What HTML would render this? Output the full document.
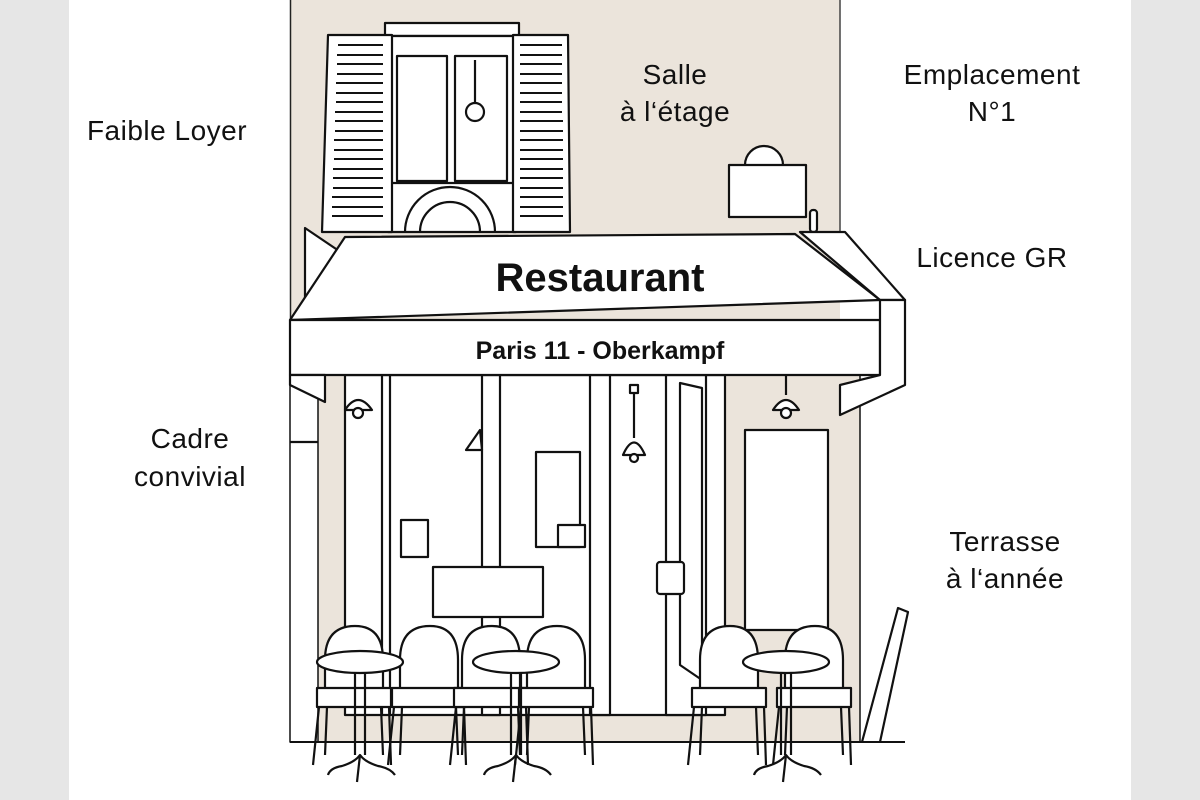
<!DOCTYPE html>
<html><head><meta charset="utf-8"><style>
html,body{margin:0;padding:0;background:#fff}
svg{display:block}
.l{font-family:"Liberation Sans",sans-serif;font-size:28px;fill:#111;text-anchor:middle;letter-spacing:0.5px}
</style></head><body>
<svg width="1200" height="800" viewBox="0 0 1200 800" xmlns="http://www.w3.org/2000/svg">
<defs>
<g id="ch">
<path d="M0 690 L0 660 Q0 626 30 626 Q58 626 58 660 L58 690"/>
<path d="M-8 688 L66 688 L66 707 L-8 707 Z"/>
<path d="M-6 707 L-12 765 M2 707 L0 755 M56 707 L58 755 M64 707 L66 765"/>
</g>
<g id="tb">
<line x1="-5" y1="670" x2="-5" y2="755"/><line x1="5" y1="670" x2="5" y2="755"/>
<path d="M-32 775 Q-30 768 -18 766 Q-5 762 0 755 Q5 762 18 766 Q30 768 35 775" fill="none"/>
<path d="M0 755 L-3 782" fill="none"/>
<ellipse cx="0" cy="662" rx="43" ry="11"/>
</g>
</defs>
<rect x="0" y="0" width="69" height="800" fill="#e6e6e6"/>
<rect x="1131" y="0" width="69" height="800" fill="#e6e6e6"/>
<!-- building -->
<rect x="290" y="0" width="550" height="320" fill="#ebe4db"/>
<rect x="318" y="375" width="542" height="367" fill="#ebe4db"/>
<line x1="290.5" y1="0" x2="290.5" y2="742" stroke="#222" stroke-width="1.5"/>
<line x1="840" y1="0" x2="840" y2="232" stroke="#444" stroke-width="1.5"/>
<g fill="#fff" stroke="#111" stroke-width="2.2" stroke-linejoin="round">
<!-- window -->
<rect x="385" y="23" width="134" height="13"/>
<rect x="388" y="36" width="128" height="196"/>
<rect x="397" y="56" width="50" height="125"/>
<rect x="455" y="56" width="52" height="125"/>
<line x1="388" y1="183" x2="516" y2="183"/>
<path d="M405 232 A45 45 0 0 1 495 232" fill="none"/>
<path d="M420 232 A30 30 0 0 1 480 232" fill="none"/>
<circle cx="475" cy="112" r="9"/>
<line x1="475" y1="60" x2="475" y2="103"/>
<!-- shutters -->
<path d="M328 35 L392 35 L392 232 L322 232 Z"/>
<path d="M513 35 L568 35 L570 232 L513 232 Z"/>
<g stroke-width="2">
<path d="M338 45h45M337 55h46M337 64h46M337 74h46M336 83h47M336 93h47M336 102h47M335 112h48M335 121h48M335 131h48M334 140h49M334 150h49M334 159h49M333 169h50M333 178h50M333 188h50M332 197h51M332 207h51M332 216h51"/>
<path d="M520 45h42M520 55h42M520 64h42M520 74h42M520 83h42M520 93h42M520 102h42M520 112h42M520 121h43M520 131h43M520 140h43M520 150h43M520 159h43M520 169h43M520 178h43M520 188h43M520 197h43M520 207h43M520 216h43"/>
</g>
<!-- sign -->
<path d="M745 165 A18 18 0 0 1 783 165"/>
<rect x="729" y="165" width="77" height="52"/>
<rect x="810" y="210" width="7" height="22" rx="3"/>
<!-- left open shutter -->
<path d="M305 228 L345 255 L305 300 Z"/>
<!-- storefront -->
<rect x="290" y="375" width="28" height="367" stroke-width="1.5"/>
<line x1="290" y1="442" x2="318" y2="442"/>
<rect x="345" y="375" width="380" height="340"/>
<line x1="382" y1="375" x2="382" y2="715"/>
<line x1="390" y1="375" x2="390" y2="715"/>
<rect x="482" y="375" width="18" height="340"/>
<rect x="590" y="375" width="20" height="340"/>
<rect x="666" y="375" width="40" height="340"/>
<path d="M680 383 L702 388 L702 680 L680 665 Z"/>
<rect x="536" y="452" width="44" height="95"/>
<rect x="401" y="520" width="27" height="37"/>
<rect x="558" y="525" width="27" height="22"/>
<rect x="433" y="567" width="110" height="50"/>
<rect x="657" y="562" width="27" height="32" rx="3"/>
<rect x="745" y="430" width="83" height="200"/>
<line x1="860" y1="375" x2="860" y2="742" stroke-width="1.5"/>
<!-- lamps -->
<path d="M345 410 Q358 390 372 410 Z"/><circle cx="358" cy="413" r="5"/>
<path d="M773 410 Q786 390 799 410 Z"/><circle cx="786" cy="413" r="5"/>
<line x1="786" y1="375" x2="786" y2="395"/>
<rect x="630" y="385" width="8" height="8"/><line x1="634" y1="393" x2="634" y2="438"/>
<path d="M623 455 Q634 430 645 455 Z"/><circle cx="634" cy="458" r="4"/>
<path d="M466 450 L480 430 L482 450 Z"/>
<!-- awning -->
<path d="M345 237 L795 234 L880 300 L290 320 Z"/>
<path d="M800 232 L845 232 L905 300 L880 300 Z"/>
<rect x="290" y="320" width="590" height="55"/>
<path d="M880 300 L905 300 L905 385 L840 415 L840 385 L880 375 Z"/>
<path d="M290 375 L325 375 L325 402 L290 385 Z"/>
<!-- menu board right -->
<path d="M862 742 L898 608 L908 612 L880 742"/>
</g>
<g fill="#fff" stroke="#111" stroke-width="2.2" stroke-linejoin="round">
<use href="#ch" transform="translate(325,0)"/>
<use href="#ch" transform="translate(400,0)"/>
<use href="#ch" transform="translate(462,0)"/>
<use href="#ch" transform="translate(527,0)"/>
<use href="#ch" transform="translate(700,0)"/>
<use href="#ch" transform="translate(785,0)"/>
<use href="#tb" transform="translate(360,0)"/>
<use href="#tb" transform="translate(516,0)"/>
<use href="#tb" transform="translate(786,0)"/>
</g>
<line x1="290" y1="742" x2="905" y2="742" stroke="#111" stroke-width="2"/>
<!-- awning text -->
<text x="600" y="291" font-family="Liberation Sans,sans-serif" font-weight="bold" font-size="40" text-anchor="middle" fill="#111">Restaurant</text>
<text x="600" y="359" font-family="Liberation Sans,sans-serif" font-weight="bold" font-size="25" text-anchor="middle" fill="#111">Paris 11 - Oberkampf</text>
<!-- labels -->
<text class="l" x="167" y="140">Faible Loyer</text>
<text class="l" x="675" y="84">Salle</text>
<text class="l" x="675" y="121">à l‘étage</text>
<text class="l" x="992" y="84">Emplacement</text>
<text class="l" x="992" y="121">N°1</text>
<text class="l" x="992" y="267">Licence GR</text>
<text class="l" x="190" y="448">Cadre</text>
<text class="l" x="190" y="486">convivial</text>
<text class="l" x="1005" y="551">Terrasse</text>
<text class="l" x="1005" y="588">à l‘année</text>
</svg>
</body></html>
